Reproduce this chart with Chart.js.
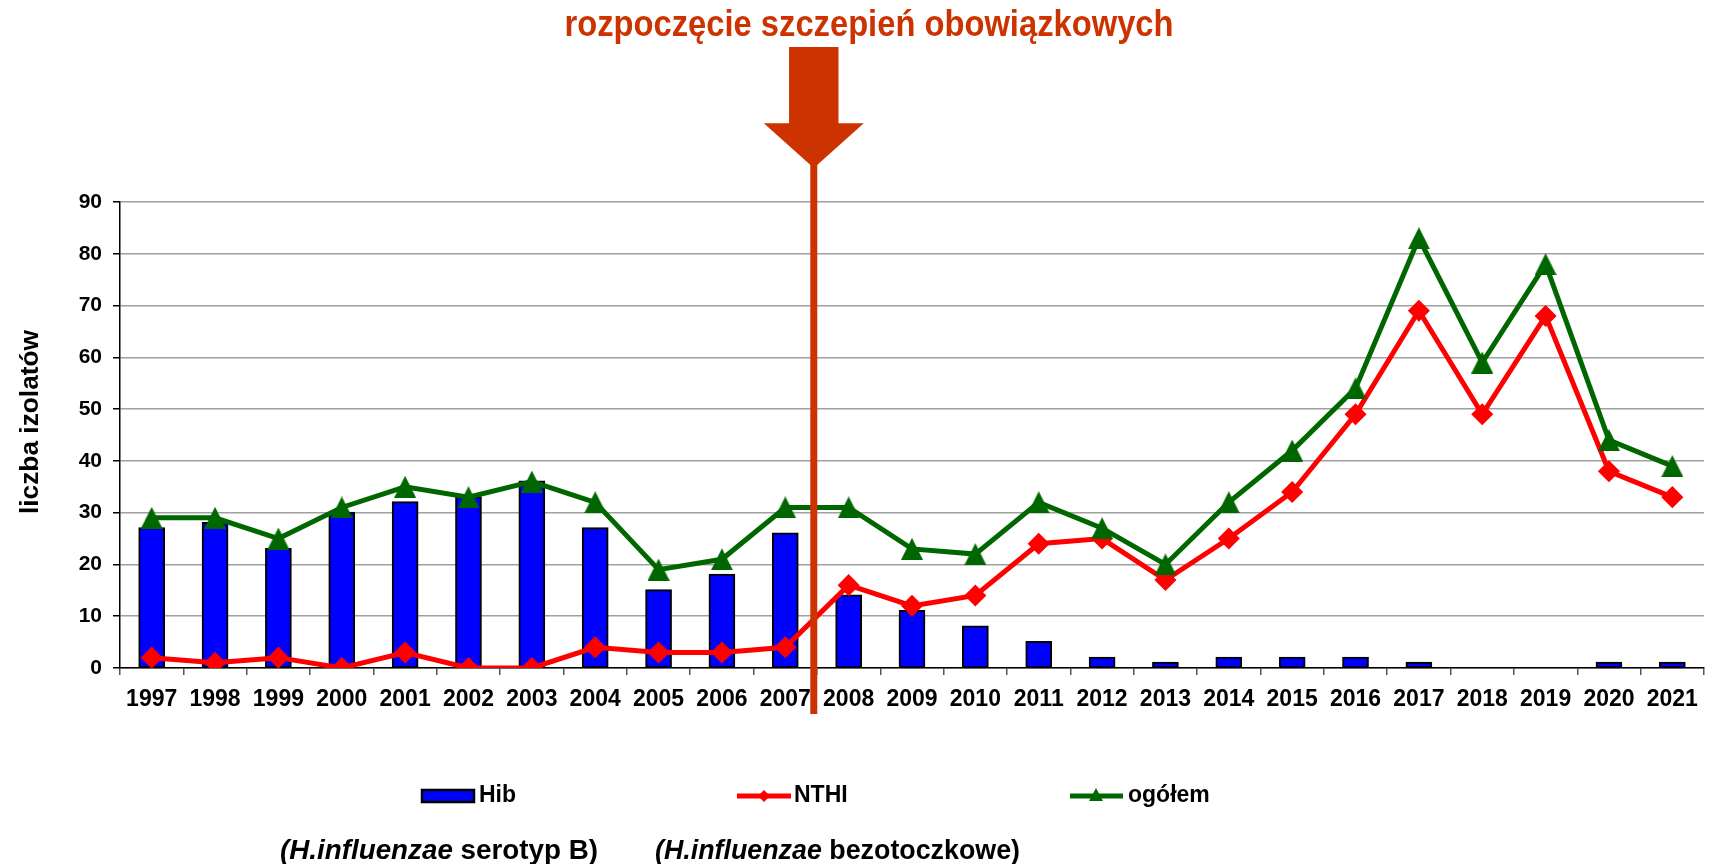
<!DOCTYPE html>
<html><head><meta charset="utf-8">
<script src="https://cdn.jsdelivr.net/npm/chart.js@4.4.1/dist/chart.umd.min.js"></script>
<style>html,body{margin:0;padding:0;background:#fff;} #wrap{width:1720px;height:864px;position:relative;}</style>
</head><body><div id="wrap"><canvas id="c" width="1720" height="864"></canvas></div>
<script>
// ---- data ----
const years = ['1997','1998','1999','2000','2001','2002','2003','2004','2005','2006','2007','2008','2009','2010','2011','2012','2013','2014','2015','2016','2017','2018','2019','2020','2021'];
const hib    = [27,28,23,30,32,33,36,27,15,18,26,14,11,8,5,2,1,2,2,2,1,0,0,1,1];
const nthi   = [2,1,2,0,3,0,0,4,3,3,4,16,12,14,24,25,17,25,34,49,69,49,68,38,33];
const ogolem = [29,29,25,31,35,33,36,32,19,21,31,31,23,22,32,27,20,32,42,54,83,59,78,44,39];
const yMin = 0, yMax = 90, yStep = 10;
const seriesNames = ['Hib','NTHI','ogółem'];
const titleText = 'rozpoczęcie szczepień obowiązkowych';
const yTitleText = 'liczba izolatów';
const sub1 = ['(H.influenzae', ' serotyp B)'];
const sub2 = ['(H.influenzae', ' bezotoczkowe)'];
const vaccinationPos = 10.45; // between 2007 and 2008 (category index)

const BLUE = '#0000ff', RED = '#ff0000', GREEN = '#006600', ORANGE = '#cc3300';
const FONT = '"Liberation Sans", Arial, sans-serif';

function makeTri(w, h, color) {
  const c = document.createElement('canvas');
  c.width = w; c.height = h;
  const g = c.getContext('2d');
  g.fillStyle = color;
  g.beginPath(); g.moveTo(w/2, 0); g.lineTo(w, h); g.lineTo(0, h); g.closePath(); g.fill();
  return c;
}
const tri = makeTri(22, 22, GREEN);

function fitText(ctx, text, font, cx, cy, targetW, align) {
  ctx.save();
  ctx.font = font;
  const w = ctx.measureText(text).width;
  const sx = targetW / w;
  ctx.translate(cx, cy);
  ctx.scale(sx, 1);
  ctx.textAlign = align || 'center';
  ctx.fillText(text, 0, 0);
  ctx.restore();
}

function drawMixed(ctx, parts, left, right, cy, size) {
  ctx.save();
  const fI = 'italic bold ' + size + 'px ' + FONT;
  const fN = 'bold ' + size + 'px ' + FONT;
  ctx.font = fI; const w1 = ctx.measureText(parts[0]).width;
  ctx.font = fN; const w2 = ctx.measureText(parts[1]).width;
  const sx = (right - left) / (w1 + w2);
  ctx.translate(left, cy);
  ctx.scale(sx, 1);
  ctx.textAlign = 'left'; ctx.textBaseline = 'middle'; ctx.fillStyle = '#000';
  ctx.font = fI; ctx.fillText(parts[0], 0, 0);
  ctx.font = fN; ctx.fillText(parts[1], w1, 0);
  ctx.restore();
}

const overlay = {
  id: 'overlay',
  afterDatasetsDraw(chart) {
    const ctx = chart.ctx;
    const xs = chart.scales.x;
    const cx = xs.getPixelForValue(vaccinationPos);
    ctx.save();
    // title
    ctx.fillStyle = ORANGE;
    ctx.textBaseline = 'alphabetic';
    fitText(ctx, titleText, 'bold 37px "Liberation Sans Narrow", "Liberation Sans", Arial, sans-serif', 869, 36, 609, 'center');
    // arrow
    ctx.fillStyle = ORANGE;
    ctx.fillRect(cx - 24.7, 47, 49.4, 77);
    ctx.beginPath();
    ctx.moveTo(cx - 50, 123.3); ctx.lineTo(cx + 50, 123.3); ctx.lineTo(cx, 168); ctx.closePath(); ctx.fill();
    ctx.fillRect(cx - 3.5, 160, 7, 554);

    // y title
    ctx.fillStyle = '#000';
    ctx.save();
    ctx.translate(31, 422);
    ctx.rotate(-Math.PI / 2);
    ctx.textBaseline = 'middle';
    fitText(ctx, yTitleText, 'bold 26px ' + FONT, 0, 0, 184, 'center');
    ctx.restore();

    // legend
    const ly = 796;
    ctx.textBaseline = 'middle';
    ctx.font = 'bold 23px ' + FONT;
    // Hib
    ctx.fillStyle = BLUE; ctx.fillRect(422, 790, 52, 12);
    ctx.strokeStyle = '#000'; ctx.lineWidth = 2.5; ctx.strokeRect(422, 790, 52, 12);
    ctx.fillStyle = '#000'; ctx.textAlign = 'left'; ctx.fillText(seriesNames[0], 479, ly);
    // NTHI
    ctx.strokeStyle = RED; ctx.lineWidth = 5; ctx.beginPath(); ctx.moveTo(737, ly); ctx.lineTo(791, ly); ctx.stroke();
    ctx.fillStyle = RED; ctx.beginPath(); ctx.moveTo(764, ly - 6); ctx.lineTo(770, ly); ctx.lineTo(764, ly + 6); ctx.lineTo(758, ly); ctx.closePath(); ctx.fill();
    ctx.fillStyle = '#000'; ctx.fillText(seriesNames[1], 794, ly);
    // ogolem
    ctx.strokeStyle = GREEN; ctx.lineWidth = 5; ctx.beginPath(); ctx.moveTo(1070, ly); ctx.lineTo(1123, ly); ctx.stroke();
    ctx.fillStyle = GREEN; ctx.beginPath(); ctx.moveTo(1096, ly - 8); ctx.lineTo(1103, ly + 5); ctx.lineTo(1089, ly + 5); ctx.closePath(); ctx.fill();
    ctx.fillStyle = '#000'; ctx.fillText(seriesNames[2], 1128, ly);

    // subtitles
    drawMixed(ctx, sub1, 280, 598, 852, 27);
    drawMixed(ctx, sub2, 655, 1020, 852, 27);
    ctx.restore();
  }
};

new Chart(document.getElementById('c'), {
  type: 'bar',
  data: {
    labels: years,
    datasets: [
      { type: 'line', label: seriesNames[2], data: ogolem, borderColor: GREEN, backgroundColor: GREEN,
        borderWidth: 5, tension: 0, pointStyle: tri, pointRadius: 11, order: 1 },
      { type: 'line', label: seriesNames[1], data: nthi, borderColor: RED, backgroundColor: RED,
        borderWidth: 5, tension: 0, pointStyle: 'rectRot', pointRadius: 7.5, order: 2 },
      { type: 'bar', label: seriesNames[0], data: hib, backgroundColor: BLUE, borderColor: '#000',
        borderWidth: 2, borderSkipped: false, inflateAmount: 1, barPercentage: 0.39, categoryPercentage: 1.0, order: 3 }
    ]
  },
  options: {
    responsive: false, animation: false, devicePixelRatio: 1,
    layout: { padding: { top: 202, right: 9, bottom: 0, left: 0 } },
    plugins: { legend: { display: false }, tooltip: { enabled: false }, title: { display: false } },
    scales: {
      x: {
        offset: true,
        grid: { offset: true, drawOnChartArea: false, drawTicks: true, tickLength: 7, color: '#555', lineWidth: 1.5 },
        border: { color: '#000', width: 1.5 },
        ticks: { font: { family: FONT, weight: 'bold', size: 23 }, color: '#000', padding: 11, maxRotation: 0, autoSkip: false },
        afterFit: (s) => { s.height = 196; }
      },
      y: {
        min: yMin, max: yMax,
        ticks: { stepSize: yStep, font: { family: FONT, weight: 'bold', size: 21 }, color: '#000', padding: 11 },
        grid: { color: '#a0a0a0', lineWidth: 1.5, tickLength: 7, tickColor: '#000' },
        border: { color: '#000', width: 1.5 },
        afterFit: (s) => { s.width = 120; }
      }
    }
  },
  plugins: [overlay]
});
</script>
</body></html>
